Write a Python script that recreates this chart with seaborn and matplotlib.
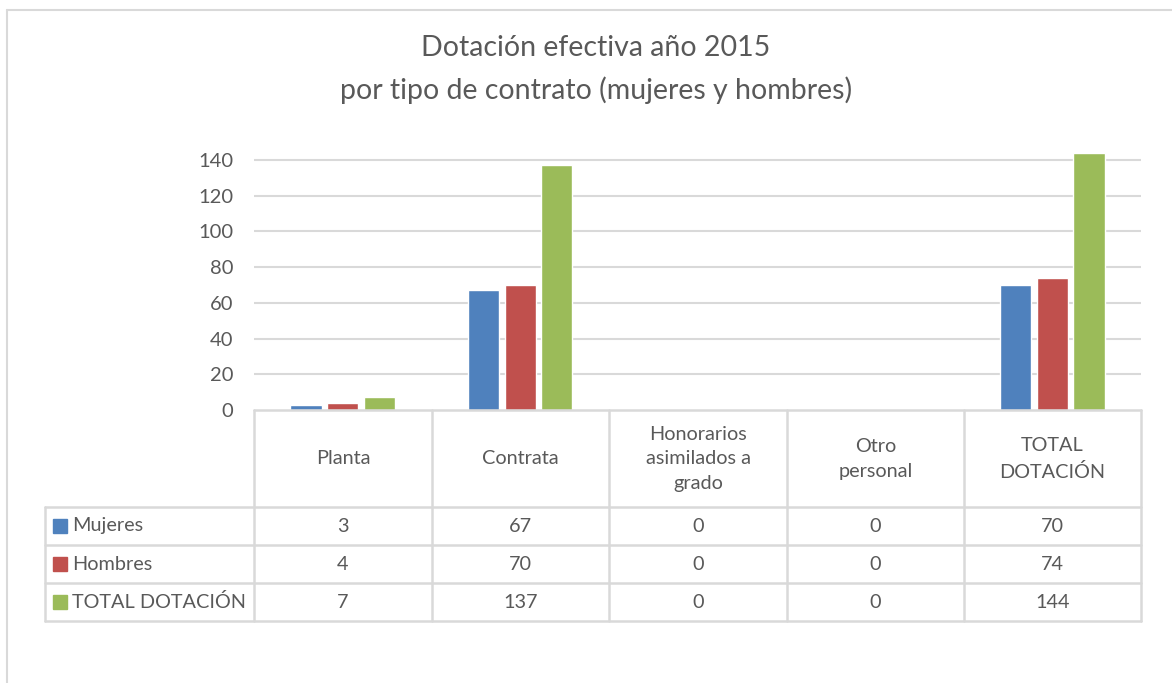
import matplotlib
matplotlib.use('Agg')
import matplotlib.pyplot as plt
import pandas as pd
import seaborn as sns
from matplotlib.lines import Line2D
from matplotlib.patches import Rectangle

## Data
categorias = ['Planta', 'Contrata', 'Honorarios\nasimilados a\ngrado', 'Otro\npersonal', 'TOTAL\nDOTACIÓN']
series = ['Mujeres', 'Hombres', 'TOTAL DOTACIÓN']
mujeres = [3, 67, 0, 0, 70]
hombres = [4, 70, 0, 0, 74]
total = [7, 137, 0, 0, 144]
yticks = [0, 20, 40, 60, 80, 100, 120, 140]

COLORES = ['#4F81BD', '#C0504D', '#9BBB59']
GRIS_TEXTO = '#595959'
GRIS_LINEA = '#D9D9D9'
W, H = 1172, 683

sns.set_theme(style='white')
plt.rcParams['font.family'] = ['Lato', 'DejaVu Sans']

df = pd.DataFrame({
    'categoria': categorias * 3,
    'serie': sum([[s] * len(categorias) for s in series], []),
    'valor': mujeres + hombres + total,
})

fig = plt.figure(figsize=(W / 100, H / 100), dpi=100)

def fx(px):
    return px / W

def fy(py):
    return 1 - py / H

## Plot area in pixels
x0, x1, ytop, ybot = 254, 1141, 142, 410
ax = fig.add_axes([fx(x0), fy(ybot), fx(x1) - fx(x0), fy(ytop) - fy(ybot)])
sns.barplot(data=df, x='categoria', y='valor', hue='serie', order=categorias,
            hue_order=series, palette=COLORES, width=0.62, gap=0.15,
            saturation=1, ax=ax, legend=False)
ax.set_xlim(-0.5, len(categorias) - 0.5)
ax.set_ylim(0, 150)
ax.set_yticks(yticks)
ax.set_xticks([])
ax.set_xlabel('')
ax.set_ylabel('')
for s in ax.spines.values():
    s.set_visible(False)
ax.tick_params(axis='y', length=0, pad=15, labelsize=14.5, labelcolor=GRIS_TEXTO)
for t in yticks[1:]:
    ax.axhline(t, color=GRIS_LINEA, lw=1.5, zorder=0)
ax.set_axisbelow(True)

## Title
fig.text(fx(596), fy(48), 'Dotación efectiva año 2015', ha='center', va='center',
         fontsize=20.5, color=GRIS_TEXTO)
fig.text(fx(596), fy(90), 'por tipo de contrato (mujeres y hombres)', ha='center',
         va='center', fontsize=20.5, color=GRIS_TEXTO)

## Outer chart border (only top and left visible)
fig.add_artist(Line2D([fx(7), fx(W)], [fy(10), fy(10)], color=GRIS_LINEA, lw=1.5))
fig.add_artist(Line2D([fx(7), fx(7)], [fy(10), fy(H)], color=GRIS_LINEA, lw=1.5))

## Data table
col_x = [254, 432, 609, 787, 964, 1141]
row_y = [410, 507, 545, 583, 621]
lw = 1.8
fig.add_artist(Line2D([fx(254), fx(1141)], [fy(410), fy(410)], color=GRIS_LINEA, lw=lw))
for y in row_y[1:]:
    fig.add_artist(Line2D([fx(45), fx(1141)], [fy(y), fy(y)], color=GRIS_LINEA, lw=lw))
for x in col_x:
    fig.add_artist(Line2D([fx(x), fx(x)], [fy(410), fy(621)], color=GRIS_LINEA, lw=lw))
fig.add_artist(Line2D([fx(45), fx(45)], [fy(507), fy(621)], color=GRIS_LINEA, lw=lw))

for i, cat in enumerate(categorias):
    cx = (col_x[i] + col_x[i + 1]) / 2
    fig.text(fx(cx), fy(459), cat, ha='center', va='center', fontsize=14.3,
             color=GRIS_TEXTO, linespacing=1.55)

valores = [mujeres, hombres, total]
for r, (nombre, vals, color) in enumerate(zip(series, valores, COLORES)):
    cy = (row_y[r + 1] + row_y[r + 2]) / 2
    fig.add_artist(Rectangle((fx(53), fy(cy + 7)), fx(14), fy(0) - fy(14),
                             color=color, transform=fig.transFigure))
    fig.text(fx(72), fy(cy), nombre, ha='left', va='center', fontsize=14.3,
             color=GRIS_TEXTO)
    for i, v in enumerate(vals):
        cx = (col_x[i] + col_x[i + 1]) / 2
        fig.text(fx(cx), fy(cy), str(v), ha='center', va='center', fontsize=14.3,
                 color=GRIS_TEXTO)

fig.savefig('out.png', dpi=100)
